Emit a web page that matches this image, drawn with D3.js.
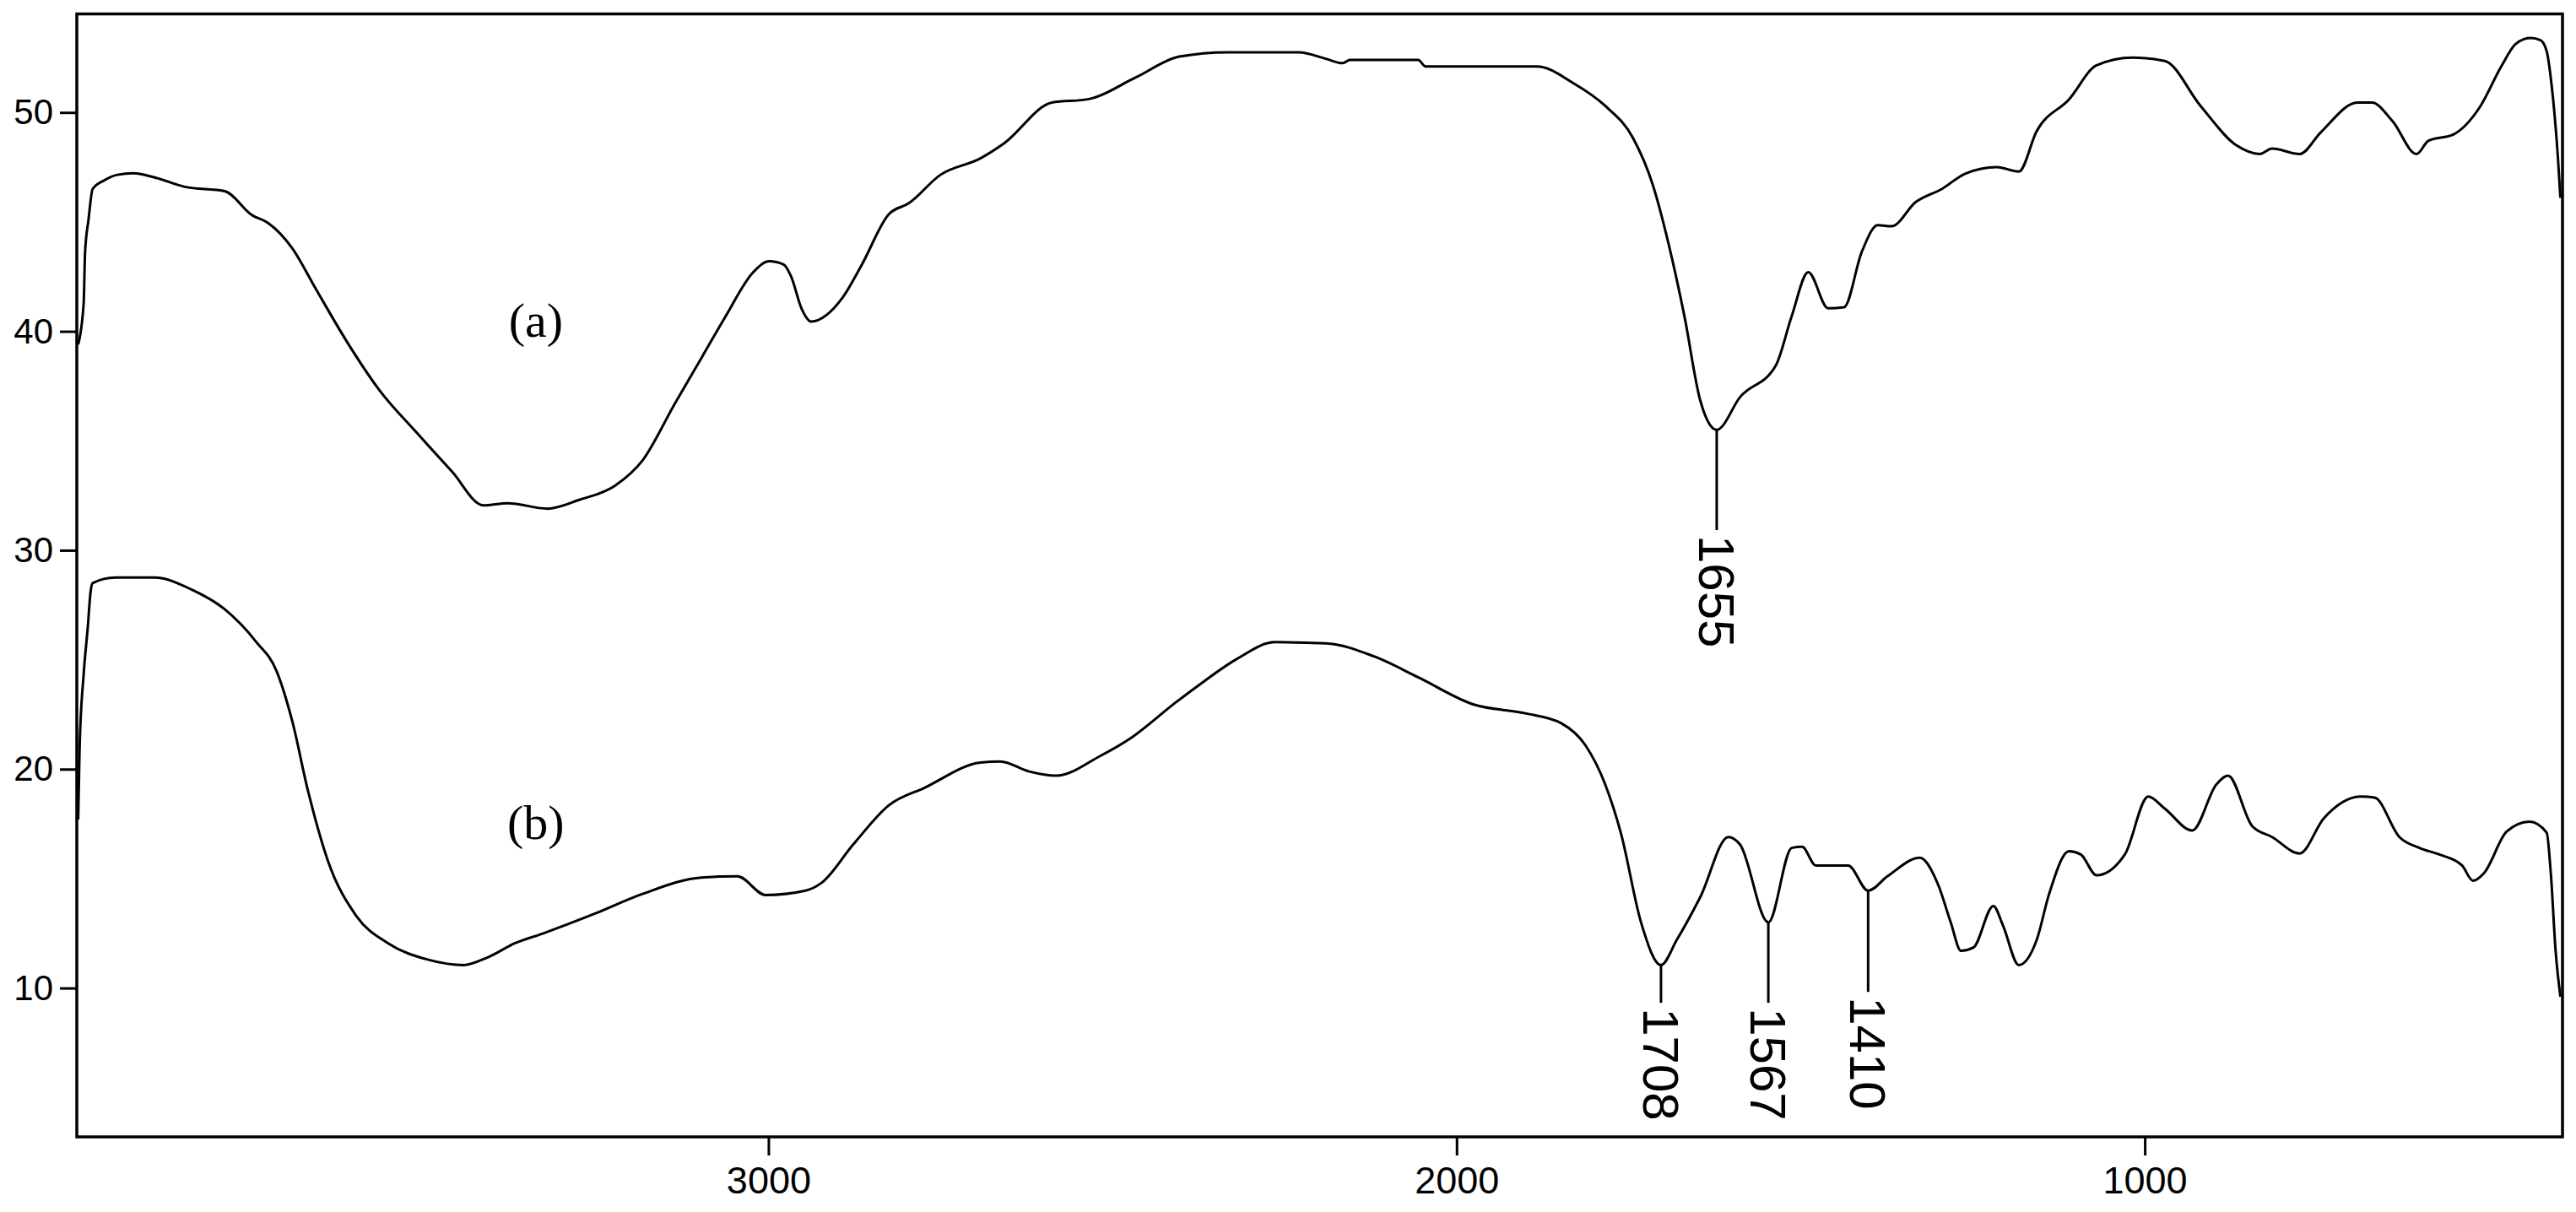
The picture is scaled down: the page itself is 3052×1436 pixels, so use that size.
<!DOCTYPE html>
<html>
<head>
<meta charset="utf-8">
<script src="https://cdnjs.cloudflare.com/ajax/libs/d3/7.8.5/d3.min.js"></script>
<style>
  html, body { margin: 0; padding: 0; background: #fff; }
  svg { display: block; }
</style>
</head>
<body>
<svg id="chart" width="3052" height="1436"></svg>
<script>
// spectrum (a): wavenumber (cm-1) and transmittance
var waveA = [4003, 3995, 3993, 3988, 3982, 3965, 3946, 3923, 3894, 3848, 3790, 3750, 3727, 3692, 3657, 3611,
  3565, 3512, 3460, 3414, 3379, 3321, 3275, 3223, 3183, 3136, 3097, 3062, 3022, 2999, 2978, 2967, 2952, 2938,
  2892, 2865, 2825, 2796, 2750, 2692, 2657, 2588, 2536, 2466, 2403, 2333, 2229, 2190, 2166, 2155, 2056, 2045,
  1883, 1831, 1784, 1744, 1715, 1692, 1669, 1646, 1622, 1588, 1536, 1513, 1489, 1460, 1437, 1411, 1388, 1368,
  1333, 1295, 1261, 1215, 1183, 1157, 1110, 1070, 1018, 971, 919, 867, 833, 815, 775, 744, 691, 670, 640, 605,
  588, 551, 514, 482, 462, 449, 439, 425, 416, 409, 400, 396];
var transA = [39.4, 41.3, 43.6, 45.1, 46.5, 46.9, 47.15, 47.22, 47.05, 46.6, 46.4, 45.3, 44.95, 43.8, 41.9, 39.45,
  37.3, 35.4, 33.6, 32.05, 32.15, 31.9, 32.3, 32.95, 34.1, 36.7, 38.8, 40.7, 42.7, 43.2, 43.05, 42.5, 41.05, 40.45,
  41.55, 43.0, 45.35, 45.85, 47.15, 47.9, 48.6, 50.45, 50.6, 51.6, 52.55, 52.75, 52.75, 52.45, 52.25, 52.4, 52.4, 52.1,
  52.1, 51.35, 50.3, 48.85, 46.7, 44.0, 40.7, 36.85, 35.5, 37.0, 38.45, 40.7, 42.7, 41.05, 41.1, 43.65, 44.85, 44.8,
  45.9, 46.5, 47.2, 47.5, 47.3, 49.15, 50.6, 52.15, 52.5, 52.35, 50.3, 48.5, 48.1, 48.35, 48.1, 49.1, 50.45, 50.45, 49.6, 48.1,
  48.7, 49.0, 50.2, 52.1, 53.1, 53.35, 53.4, 53.3, 52.8, 51.3, 48.1, 46.1];

// spectrum (b)
var waveB = [4003, 4001, 3995, 3989, 3985, 3982, 3949, 3892, 3838, 3790, 3744, 3715, 3692, 3669, 3640, 3599,
  3553, 3495, 3443, 3408, 3368, 3327, 3252, 3183, 3097, 3045, 3004, 2946, 2923, 2877, 2825, 2773, 2692, 2663,
  2622, 2582, 2518, 2472, 2408, 2374, 2321, 2264, 2190, 2120, 2056, 1975, 1900, 1848, 1813, 1784, 1761, 1732,
  1703, 1680, 1646, 1605, 1588, 1547, 1513, 1498, 1478, 1431, 1402, 1374, 1327, 1300, 1282, 1267, 1249, 1220,
  1206, 1183, 1157, 1139, 1110, 1093, 1070, 1029, 995, 971, 931, 896, 879, 844, 815, 775, 740, 686, 666, 630,
  601, 572, 539, 523, 507, 474, 441, 416, 410, 403, 396];
var transB = [17.7, 20.9, 24.35, 26.5, 28.1, 28.5, 28.75, 28.75, 28.2, 27.3, 25.8, 24.5, 22.2, 19.0, 15.8, 13.3,
  12.05, 11.3, 11.05, 11.4, 12.05, 12.5, 13.4, 14.3, 15.05, 15.1, 14.25, 14.45, 14.8, 16.55, 18.35, 19.15, 20.3, 20.35,
  19.9, 19.7, 20.6, 21.45, 23.05, 23.85, 25.0, 25.8, 25.75, 25.15, 24.2, 22.95, 22.55, 22.1, 21.1, 19.3, 17.05, 13.0,
  11.05, 12.2, 14.15, 16.9, 16.55, 13.0, 16.4, 16.45, 15.6, 15.6, 14.45, 15.1, 15.95, 14.7, 13.0, 11.7, 11.85, 13.75,
  12.85, 11.05, 12.2, 14.3, 16.25, 16.1, 15.15, 16.1, 18.75, 18.2, 17.2, 19.3, 19.7, 17.4, 16.9, 16.15, 17.75, 18.75, 18.7, 16.9,
  16.4, 16.1, 15.6, 14.9, 15.25, 17.15, 17.6, 17.1, 15.25, 11.7, 9.6];

var xTicks = [3000, 2000, 1000];
var yTicks = [10, 20, 30, 40, 50];

// marked peaks: label text, where the marker sits, which spectrum, where the label starts
var peakLabels = ["1655", "1708", "1567", "1410"];
var peakWave = [1622, 1703, 1547, 1402];
var peakSeries = ["a", "b", "b", "b"];
var peakLabelAt = [30.5, 8.9, 8.9, 9.4];

var curveNames = ["(a)", "(b)"];
var curveNameWave = [3338, 3338];
var curveNameValue = [40.5, 17.55];

var svg = d3.select("#chart");
var plotLeft = 91, plotRight = 3036, plotTop = 16.5, plotBottom = 1347;

var x = d3.scaleLinear().domain([4005, 393]).range([plotLeft, plotRight]);
var y = d3.scaleLinear().domain([3.2, 54.5]).range([plotBottom, plotTop]);

var series = {
  a: waveA.map(function(w, i) { return {w: w, v: transA[i]}; }),
  b: waveB.map(function(w, i) { return {w: w, v: transB[i]}; })
};

// axes
var xAxis = svg.append("g")
  .attr("transform", "translate(0," + plotBottom + ")")
  .call(d3.axisBottom(x).tickValues(xTicks).tickSize(22).tickPadding(13).tickSizeOuter(0).tickFormat(d3.format("d")));
var yAxis = svg.append("g")
  .attr("transform", "translate(" + plotLeft + ",0)")
  .call(d3.axisLeft(y).tickValues(yTicks).tickSize(20).tickPadding(8).tickSizeOuter(0));

[xAxis, yAxis].forEach(function(g) {
  g.select(".domain").remove();
  g.selectAll(".tick line").attr("stroke", "#000").attr("stroke-width", 3);
  g.selectAll(".tick text").attr("fill", "#000").style("font-family", "'Liberation Sans', Arial, sans-serif");
});
xAxis.selectAll(".tick text").style("font-size", "45px");
yAxis.selectAll(".tick text").style("font-size", "42px");

// frame
svg.append("rect")
  .attr("x", plotLeft).attr("y", plotTop)
  .attr("width", plotRight - plotLeft).attr("height", plotBottom - plotTop)
  .attr("fill", "none").attr("stroke", "#000").attr("stroke-width", 3.5);

// spectra
var line = d3.line()
  .x(function(d) { return x(d.w); })
  .y(function(d) { return y(d.v); })
  .curve(d3.curveMonotoneX);

svg.selectAll("path.spectrum")
  .data([series.a, series.b])
  .enter().append("path")
  .attr("class", "spectrum")
  .attr("d", line)
  .attr("fill", "none")
  .attr("stroke", "#000")
  .attr("stroke-width", 3)
  .attr("stroke-linejoin", "round");

// peak markers
peakLabels.forEach(function(label, i) {
  var pt = series[peakSeries[i]].find(function(d) { return d.w === peakWave[i]; });
  var px = x(peakWave[i]);
  var ty = y(peakLabelAt[i]);
  svg.append("line")
    .attr("x1", px).attr("x2", px)
    .attr("y1", y(pt.v)).attr("y2", ty - 11)
    .attr("stroke", "#000").attr("stroke-width", 3);
  svg.append("text")
    .attr("transform", "translate(" + px + "," + (ty - 5) + ") rotate(90)")
    .attr("dy", "0.35em")
    .style("font-family", "'Liberation Sans', Arial, sans-serif")
    .style("font-size", "60px")
    .attr("fill", "#000")
    .text(label);
});

// spectrum names
curveNames.forEach(function(name, i) {
  svg.append("text")
    .attr("x", x(curveNameWave[i]))
    .attr("y", y(curveNameValue[i]))
    .attr("text-anchor", "middle")
    .attr("dominant-baseline", "central")
    .style("font-family", "'Liberation Serif', 'Times New Roman', serif")
    .style("font-size", "58px")
    .attr("fill", "#000")
    .text(name);
});
</script>
</body>
</html>
